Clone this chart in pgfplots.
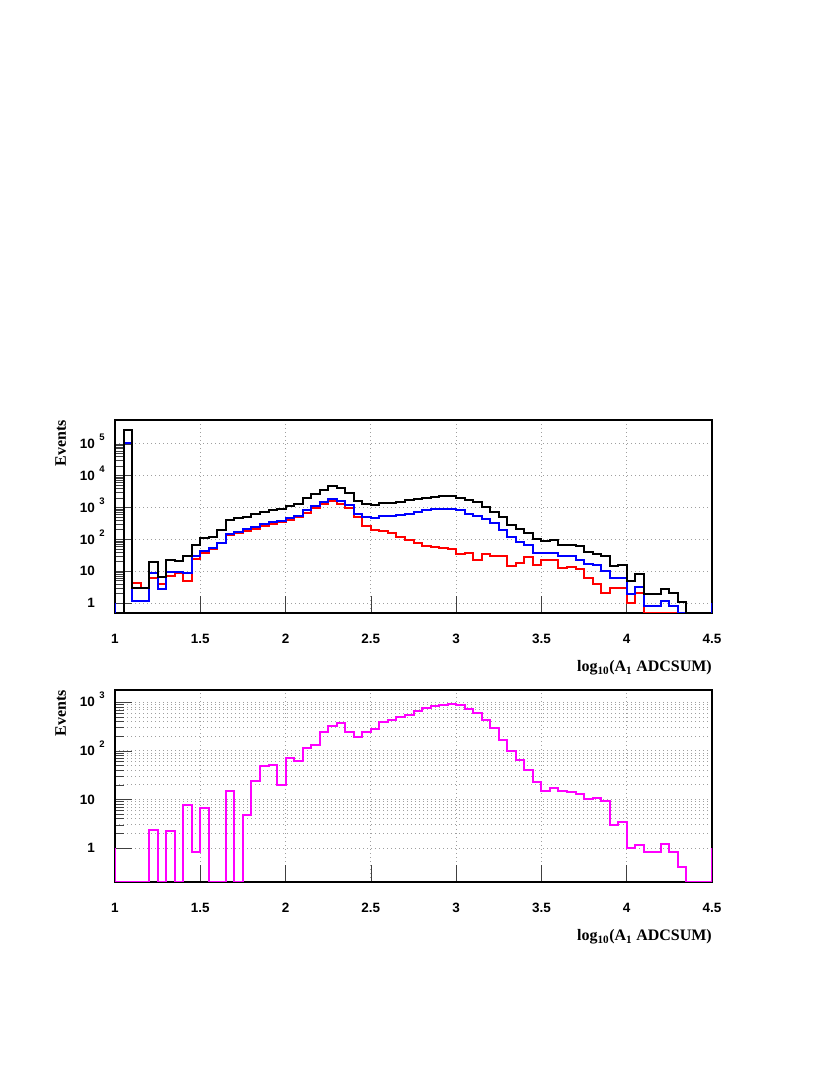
\documentclass[border=0pt]{standalone}
\usepackage{fontspec}
\setmainfont{Liberation Serif}
\setsansfont{Liberation Sans}
\usepackage{pgfplots}
\usepackage{pgfplotstable}
\pgfplotsset{compat=1.18}
\definecolor{rootmag}{RGB}{255,0,255}
\definecolor{rootred}{RGB}{255,0,0}
\definecolor{rootblue}{RGB}{0,0,255}

% bin left edges 1.00 + 0.05 i ; last row closes the histogram at 4.5
\pgfplotstableread{
x y
1.00 0.487
1.05 270000
1.10 2.95
1.15 2.95
1.20 20
1.25 6.8
1.30 22
1.35 21
1.40 31
1.45 66
1.50 112
1.55 120
1.60 195
1.65 400
1.70 457
1.75 513
1.80 617
1.85 708
1.90 832
1.95 912
2.00 1122
2.05 1334
2.10 2040
2.15 2750
2.20 3630
2.25 4790
2.30 3980
2.35 2950
2.40 1660
2.45 1290
2.50 1175
2.55 1350
2.60 1413
2.65 1514
2.70 1700
2.75 1905
2.80 2040
2.85 2140
2.90 2240
2.95 2240
3.00 2040
3.05 1780
3.10 1514
3.15 1047
3.20 724
3.25 490
3.30 282
3.35 209
3.40 155
3.45 100
3.50 91
3.55 95
3.60 69
3.65 69
3.70 63
3.75 41
3.80 35
3.85 29
3.90 15
3.95 16
4.00 5.1
4.05 7.9
4.10 1.95
4.15 1.95
4.20 2.8
4.25 2.05
4.30 1.05
4.35 0.487
4.40 0.487
4.45 0.487
4.50 0.487
}\blackdata

\pgfplotstableread{
x y
1.00 0.487
1.05 105000
1.10 1.2
1.15 1.2
1.20 8.7
1.25 2.7
1.30 9.3
1.35 9.3
1.40 8.7
1.45 29
1.50 44
1.55 52
1.60 78
1.65 148
1.70 174
1.75 209
1.80 251
1.85 302
1.90 339
1.95 372
2.00 457
2.05 537
2.10 851
2.15 1122
2.20 1445
2.25 1862
2.30 1585
2.35 1175
2.40 646
2.45 513
2.50 468
2.55 537
2.60 550
2.65 575
2.70 617
2.75 724
2.80 832
2.85 871
2.90 912
2.95 912
3.00 832
3.05 617
3.10 537
3.15 437
3.20 316
3.25 204
3.30 115
3.35 85
3.40 66
3.45 36
3.50 36
3.55 38
3.60 29
3.65 29
3.70 22
3.75 17
3.80 16
3.85 10.5
3.90 6.0
3.95 6.0
4.00 1.95
4.05 3.2
4.10 0.8
4.15 0.8
4.20 1.17
4.25 0.8
4.30 0.487
4.35 0.487
4.40 0.487
4.45 0.487
4.50 0.487
}\bluedata

\pgfplotstableread{
x y
1.00 0.487
1.05 105000
1.10 4.2
1.15 3.0
1.20 6.0
1.25 4.0
1.30 7.1
1.35 8.7
1.40 4.8
1.45 25
1.50 38
1.55 49
1.60 75
1.65 140
1.70 162
1.75 186
1.80 219
1.85 269
1.90 302
1.95 339
2.00 398
2.05 490
2.10 692
2.15 955
2.20 1288
2.25 1622
2.30 1288
2.35 955
2.40 490
2.45 269
2.50 200
2.55 186
2.60 158
2.65 115
2.70 98
2.75 76
2.80 62
2.85 56
2.90 52
2.95 49
3.00 34
3.05 38
3.10 22
3.15 34
3.20 31
3.25 29
3.30 15
3.35 18
3.40 27
3.45 16
3.50 22
3.55 22
3.60 12.3
3.65 13.3
3.70 11.5
3.75 6.0
3.80 4.0
3.85 2.0
3.90 2.95
3.95 2.95
4.00 1.0
4.05 2.0
4.10 0.487
4.15 0.487
4.20 0.487
4.25 0.487
4.30 0.487
4.35 0.487
4.40 0.487
4.45 0.487
4.50 0.487
}\reddata

\pgfplotstableread{
x y
1.00 0.2
1.05 0.2
1.10 0.2
1.15 0.2
1.20 2.4
1.25 0.2
1.30 2.2
1.35 0.2
1.40 7.6
1.45 0.83
1.50 6.7
1.55 0.2
1.60 0.2
1.65 15
1.70 0.2
1.75 4.9
1.80 24
1.85 50
1.90 52
1.95 20
2.00 70
2.05 61
2.10 115
2.15 134
2.20 245
2.25 320
2.30 375
2.35 250
2.40 190
2.45 245
2.50 285
2.55 392
2.60 426
2.65 500
2.70 540
2.75 650
2.80 760
2.85 820
2.90 870
2.95 920
3.00 880
3.05 740
3.10 600
3.15 426
3.20 295
3.25 170
3.30 100
3.35 66
3.40 40
3.45 23
3.50 15
3.55 17
3.60 15
3.65 14
3.70 13
3.75 10.4
3.80 10.7
3.85 9.1
3.90 3.0
3.95 3.4
4.00 1.0
4.05 1.17
4.10 0.81
4.15 0.81
4.20 1.2
4.25 0.81
4.30 0.4
4.35 0.2
4.40 0.2
4.45 0.2
4.50 0.2
}\magdata

\newcommand{\tickfont}{\sffamily\bfseries\fontsize{13.5}{14}\selectfont}
\newcommand{\labfont}{\rmfamily\bfseries\fontsize{16}{18}\selectfont}
\newcommand{\tenp}[1]{10\smash{\rlap{\hspace{4.5pt}\raisebox{8pt}{\fontsize{9.5}{10}\selectfont #1}}}}

\begin{document}
\begin{tikzpicture}
\path[use as bounding box] (0,0) rectangle (830pt,1075pt);

\begin{axis}[
  scale only axis,
  width=597pt, height=193pt,
  at={(115pt,462pt)}, anchor=south west,
  xmin=1, xmax=4.5,
  ymode=log,
  ymin=0.487, ymax=5.62e5,
  axis line style={line width=1.5pt},
  tick align=inside,
  xtick pos=bottom, ytick pos=left,
  xtick={1,1.5,2,2.5,3,3.5,4,4.5},
  xticklabels={1,1.5,2,2.5,3,3.5,4,4.5},
  minor x tick num=0,
  major tick length=17pt,
  minor tick length=9pt,
  tick style={black!75, line width=0.6pt},
  xticklabel style={font=\tickfont, anchor=base, inner sep=0pt, yshift=-31pt},
  yticklabel style={font=\tickfont, anchor=east, inner sep=0pt, xshift=-20pt},
  ytick={1,10,100,1000,10000,100000},
  yticklabels={1,10,\tenp{2},\tenp{3},\tenp{4},\tenp{5}},
  xmajorgrids=true, ymajorgrids=true,
  major grid style={gray!75, line width=0.8pt, dash pattern=on 1pt off 3pt},
  xlabel={log\textsubscript{10}(A\textsubscript{1} ADCSUM)},
  xlabel style={font=\labfont, at={(axis description cs:1,0)}, anchor=base east, inner sep=0pt, yshift=-59pt},
  ylabel={Events},
  ylabel style={font=\labfont, at={(axis description cs:-0.0821,1)}, anchor=base east, inner sep=0pt},
]
\addplot[const plot mark left, line width=2pt, no markers, rootred] table[x=x,y=y] {\reddata};
\addplot[const plot mark left, line width=2pt, no markers, rootblue] table[x=x,y=y] {\bluedata};
\addplot[const plot mark left, line width=2pt, no markers, black] table[x=x,y=y] {\blackdata};
\addplot[rootblue, line width=2pt, no markers] coordinates {(1,0.487) (1,1)};
\addplot[rootblue, line width=2pt, no markers] coordinates {(4.5,0.487) (4.5,1)};
\end{axis}

\begin{axis}[
  scale only axis,
  width=597pt, height=192pt,
  at={(115pt,193pt)}, anchor=south west,
  xmin=1, xmax=4.5,
  ymode=log,
  ymin=0.2, ymax=1791,
  axis line style={line width=1.5pt},
  tick align=inside,
  xtick pos=bottom, ytick pos=left,
  xtick={1,1.5,2,2.5,3,3.5,4,4.5},
  xticklabels={1,1.5,2,2.5,3,3.5,4,4.5},
  minor x tick num=0,
  major tick length=17pt,
  minor tick length=9pt,
  tick style={black!75, line width=0.6pt},
  xticklabel style={font=\tickfont, anchor=base, inner sep=0pt, yshift=-31pt},
  yticklabel style={font=\tickfont, anchor=east, inner sep=0pt, xshift=-20pt},
  ytick={1,10,100,1000},
  yticklabels={1,10,\tenp{2},\tenp{3}},
  xmajorgrids=true, ymajorgrids=true, yminorgrids=true,
  major grid style={gray!75, line width=0.8pt, dash pattern=on 1pt off 3pt},
  minor grid style={gray!75, line width=0.8pt, dash pattern=on 1pt off 3pt},
  xlabel={log\textsubscript{10}(A\textsubscript{1} ADCSUM)},
  xlabel style={font=\labfont, at={(axis description cs:1,0)}, anchor=base east, inner sep=0pt, yshift=-59pt},
  ylabel={Events},
  ylabel style={font=\labfont, at={(axis description cs:-0.0821,1)}, anchor=base east, inner sep=0pt},
]
\addplot[const plot mark left, line width=2pt, no markers, rootmag] table[x=x,y=y] {\magdata};
\addplot[rootmag, line width=2pt, no markers] coordinates {(1,0.2) (1,1)};
\addplot[rootmag, line width=2pt, no markers] coordinates {(4.5,0.2) (4.5,1)};
\end{axis}
\end{tikzpicture}
\end{document}
